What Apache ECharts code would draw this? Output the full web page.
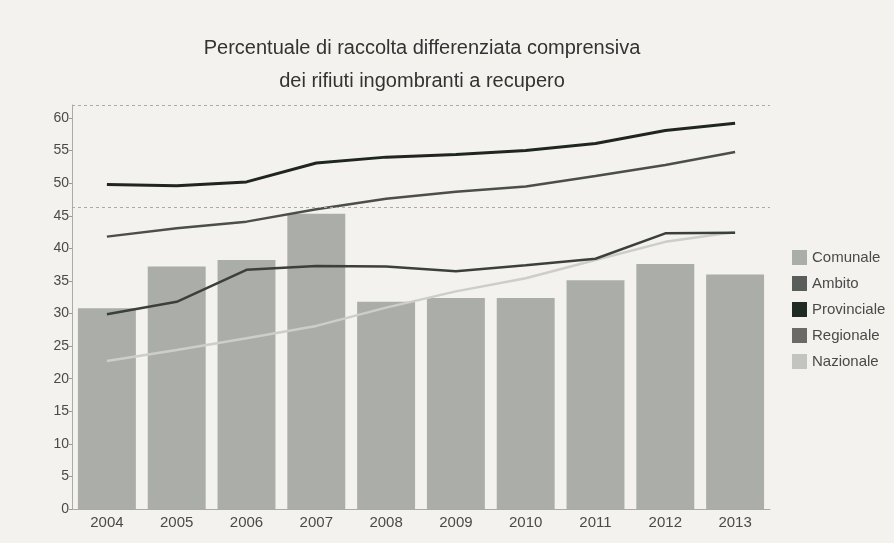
<!DOCTYPE html>
<html>
<head>
<meta charset="utf-8">
<script src="https://cdn.jsdelivr.net/npm/echarts@6/dist/echarts.min.js"></script>
<style>
  html, body { margin: 0; padding: 0; background: #f3f2ee; }
  #chart { width: 894px; height: 543px; }
</style>
</head>
<body>
<div id="chart"></div>
<script>
// Anni di riferimento
const years = ['2004', '2005', '2006', '2007', '2008', '2009', '2010', '2011', '2012', '2013'];

// Percentuali di raccolta differenziata (%)
const comunale    = [30.8, 37.2, 38.2, 45.3, 31.8, 32.4, 32.4, 35.1, 37.6, 36.0];
const ambito      = [29.9, 31.8, 36.7, 37.3, 37.2, 36.5, 37.4, 38.4, 42.3, 42.4];
const provinciale = [49.8, 49.6, 50.2, 53.1, 54.0, 54.4, 55.0, 56.1, 58.1, 59.2];
const regionale   = [41.8, 43.1, 44.1, 46.0, 47.6, 48.7, 49.5, 51.1, 52.8, 54.8];
const nazionale   = [22.7, 24.4, 26.2, 28.1, 30.9, 33.4, 35.4, 38.2, 41.0, 42.5];

// Linee di riferimento tratteggiate
const refLines = [62, 46.3];

const titleText = 'Percentuale di raccolta differenziata comprensiva\ndei rifiuti ingombranti a recupero';

const chart = echarts.init(document.getElementById('chart'));
const font = 'Liberation Sans, Arial, sans-serif';

chart.setOption({
  backgroundColor: '#f3f2ee',
  animation: false,
  textStyle: { fontFamily: font },
  title: {
    text: titleText,
    left: 417,
    top: 27,
    textAlign: 'center',
    textStyle: { fontSize: 20, fontWeight: 'normal', color: '#333', lineHeight: 33, fontFamily: font }
  },
  legend: {
    orient: 'vertical',
    left: 787,
    top: 245,
    icon: 'rect',
    itemWidth: 15,
    itemHeight: 15,
    itemGap: 11,
    textStyle: { fontSize: 15, color: '#4a4a4a', fontFamily: font },
    data: ['Comunale', 'Ambito', 'Provinciale', 'Regionale', 'Nazionale']
  },
  grid: { left: 72, right: 124, top: 105, bottom: 34 },
  xAxis: {
    type: 'category',
    data: years,
    boundaryGap: true,
    axisLine: { lineStyle: { color: '#aaa', width: 1 } },
    axisTick: { show: false },
    axisLabel: { fontSize: 15, color: '#4a4a4a', margin: 6 }
  },
  yAxis: {
    type: 'value',
    min: 0,
    max: 62,
    interval: 5,
    axisLine: { show: true, lineStyle: { color: '#aaa', width: 1 } },
    axisTick: { show: true, length: 3, lineStyle: { color: '#999' } },
    axisLabel: { fontSize: 14, color: '#4a4a4a', margin: 3, showMaxLabel: false },
    splitLine: { show: false }
  },
  series: [
    {
      name: 'Comunale',
      type: 'bar',
      data: comunale,
      barCategoryGap: '17%',
      itemStyle: { color: '#abada9' },
      markLine: {
        silent: true,
        symbol: 'none',
        label: { show: false },
        lineStyle: { type: [3, 3], color: '#aaa', width: 1 },
        data: refLines.map(v => ({ yAxis: v }))
      }
    },
    {
      name: 'Ambito', type: 'line', data: ambito, symbol: 'none',
      lineStyle: { color: '#3c403d', width: 2.5 }, itemStyle: { color: '#5a5e5a' }, z: 4
    },
    {
      name: 'Provinciale', type: 'line', data: provinciale, symbol: 'none',
      lineStyle: { color: '#1f2622', width: 3 }, itemStyle: { color: '#1f2a22' }, z: 4
    },
    {
      name: 'Regionale', type: 'line', data: regionale, symbol: 'none',
      lineStyle: { color: '#4c4e4c', width: 2.5 }, itemStyle: { color: '#6a6b69' }, z: 4
    },
    {
      name: 'Nazionale', type: 'line', data: nazionale, symbol: 'none',
      lineStyle: { color: '#cdcec8', width: 2.5 }, itemStyle: { color: '#c3c4bf' }, z: 3
    }
  ]
});
</script>
</body>
</html>
